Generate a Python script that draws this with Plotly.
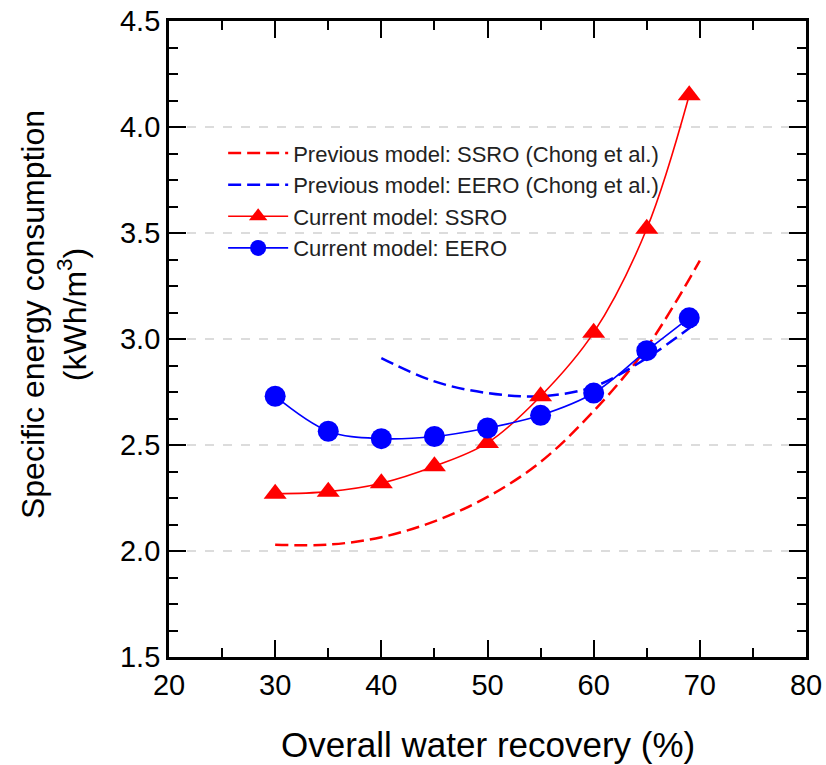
import plotly.graph_objects as go

# ---- data ----
x_cur = [30, 35, 40, 45, 50, 55, 60, 65, 69]
ssro_cur = [2.27, 2.28, 2.32, 2.40, 2.51, 2.73, 3.03, 3.52, 4.15]
eero_cur = [2.73, 2.565, 2.53, 2.54, 2.58, 2.64, 2.745, 2.945, 3.10]

x_prev_ssro = [30, 35, 40, 45, 50, 55, 60, 65, 70]
ssro_prev = [2.03, 2.03, 2.065, 2.14, 2.255, 2.42, 2.66, 2.96, 3.37]

x_prev_eero = [40, 45, 50, 55, 60, 65, 69.5]
eero_prev = [2.91, 2.80, 2.745, 2.73, 2.775, 2.91, 3.07]

x_ticks = [20, 30, 40, 50, 60, 70, 80]
y_ticks = [1.5, 2.0, 2.5, 3.0, 3.5, 4.0, 4.5]
y_tick_text = ["1.5", "2.0", "2.5", "3.0", "3.5", "4.0", "4.5"]

names = [
    "Previous model: SSRO (Chong et al.)",
    "Previous model: EERO (Chong et al.)",
    "Current model: SSRO",
    "Current model: EERO",
]
x_title = "Overall water recovery (%)"
y_title = "Specific energy consumption<br>(kWh/m<sup>3</sup>)"

RED = "#ff0000"
BLUE = "#0000ff"
FONT = "Liberation Sans, Arial, sans-serif"

fig = go.Figure()
fig.add_trace(go.Scatter(x=x_prev_ssro, y=ssro_prev, mode="lines", name=names[0],
                         line=dict(color=RED, width=2.5, dash="13px,6px", shape="spline")))
fig.add_trace(go.Scatter(x=x_prev_eero, y=eero_prev, mode="lines", name=names[1],
                         line=dict(color=BLUE, width=2.5, dash="13px,6px", shape="spline")))
fig.add_trace(go.Scatter(x=x_cur, y=ssro_cur, mode="lines+markers", name=names[2],
                         line=dict(color=RED, width=1.6, shape="spline"),
                         marker=dict(symbol="triangle-up", size=20, color=RED)))
fig.add_trace(go.Scatter(x=x_cur, y=eero_cur, mode="lines+markers", name=names[3],
                         line=dict(color=BLUE, width=1.6, shape="spline"),
                         marker=dict(symbol="circle", size=21, color=BLUE)))

axis_common = dict(
    showline=True, linecolor="black", linewidth=2.8, mirror="allticks",
    ticks="inside", ticklen=17, tickwidth=2.2, tickcolor="black",
    tickfont=dict(family=FONT, size=29, color="black"),
    zeroline=False, automargin=False,
)

fig.update_xaxes(
    range=[20, 80], tickvals=x_ticks, showgrid=False,
    minor=dict(dtick=5, ticks="inside", ticklen=9, tickwidth=2.2, tickcolor="black", showgrid=False),
    **axis_common,
)
fig.update_yaxes(
    range=[1.5, 4.5], tickvals=y_ticks, ticktext=y_tick_text,
    showgrid=True, gridcolor="#dcdcdc", gridwidth=1.5, griddash="dash",
    minor=dict(dtick=0.125, ticks="inside", ticklen=9, tickwidth=2.2, tickcolor="black", showgrid=False),
    **axis_common,
)

fig.add_annotation(text=x_title, xref="paper", yref="paper", x=0.5, y=-0.138,
                   xanchor="center", yanchor="middle", showarrow=False,
                   font=dict(family=FONT, size=35, color="black"))
fig.add_annotation(text=y_title, xref="paper", yref="paper", x=-0.1805, y=0.5377,
                   xanchor="center", yanchor="middle", showarrow=False, textangle=-90,
                   font=dict(family=FONT, size=32, color="black"))

fig.update_layout(
    width=826, height=765,
    margin=dict(l=169, r=20, t=21, b=108, autoexpand=False),
    paper_bgcolor="white", plot_bgcolor="white",
    font=dict(family=FONT, color="black"),
    legend=dict(x=0.085, y=0.825, xanchor="left", yanchor="top",
                bgcolor="rgba(0,0,0,0)", borderwidth=0,
                font=dict(family=FONT, size=22, color="#222222"),
                itemwidth=60),
    showlegend=True,
)

fig.write_html("out.html")
